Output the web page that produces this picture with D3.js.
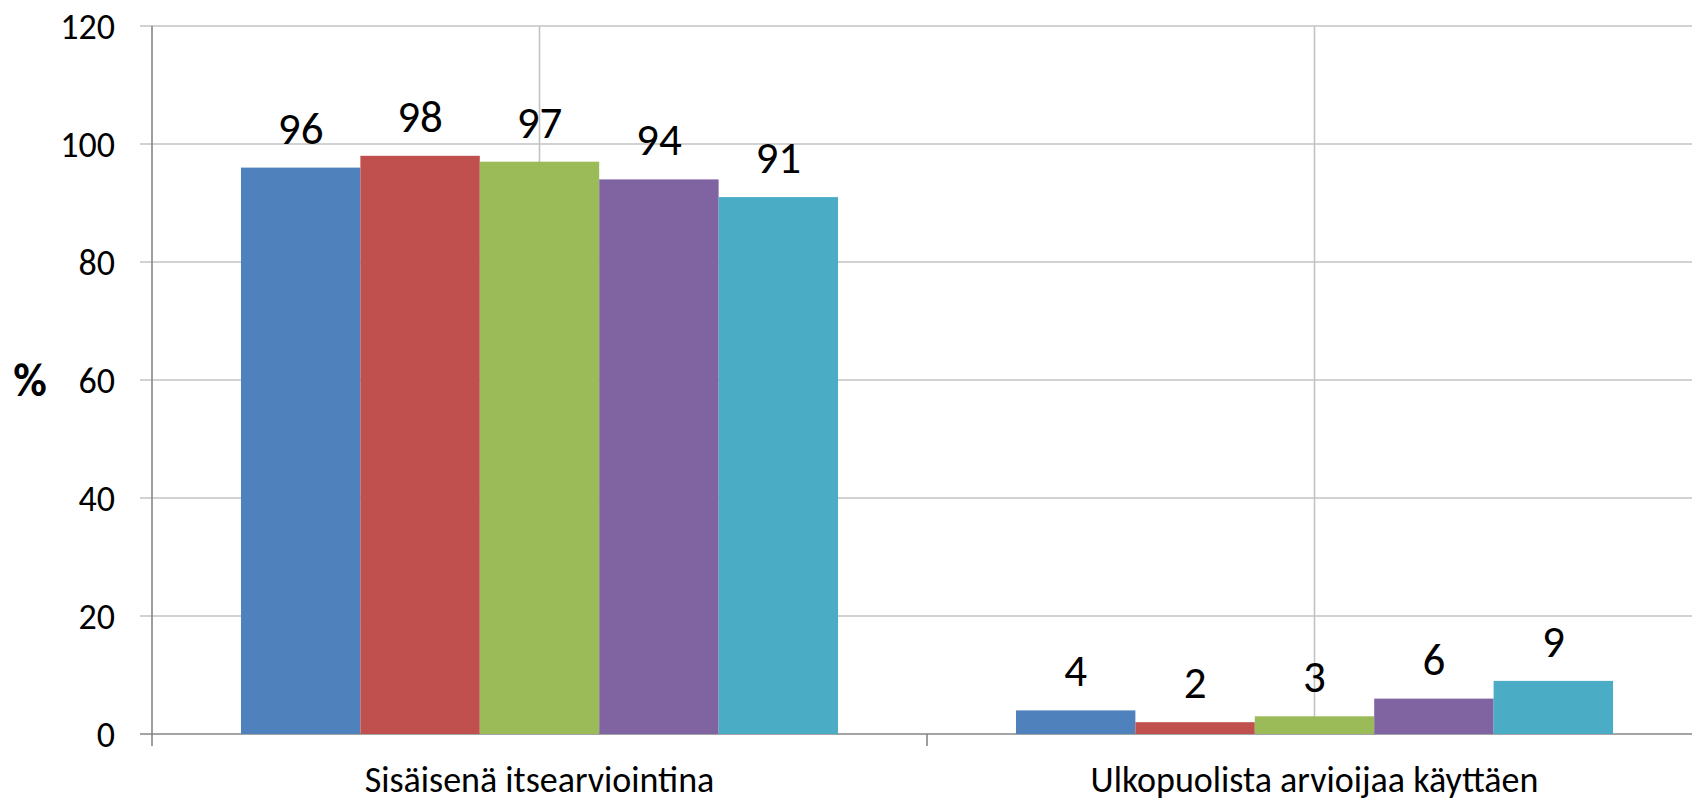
<!DOCTYPE html>
<html>
<head>
<meta charset="utf-8">
<script src="https://cdn.jsdelivr.net/npm/d3@7"></script>
<style>
  body { margin: 0; background: #fff; }
  svg { display: block; font-family: Carlito, Calibri, Lato, sans-serif; }
</style>
</head>
<body>
<svg id="chart" width="1692" height="801"></svg>
<script>
// data
const categories = ['Sisäisenä itsearviointina', 'Ulkopuolista arvioijaa käyttäen'];
const seriesNames = ['s1', 's2', 's3', 's4', 's5'];
const seriesColors = ['#4F81BD', '#C0504D', '#9BBB59', '#8064A2', '#4BACC6'];
const s1 = [96, 4];
const s2 = [98, 2];
const s3 = [97, 3];
const s4 = [94, 6];
const s5 = [91, 9];
const yTicks = [0, 20, 40, 60, 80, 100, 120];

const values = [s1, s2, s3, s4, s5];

// layout
const plot = { left: 152, top: 26, bottom: 734, right: 1702 }; // second category runs past the picture edge

const svg = d3.select('#chart');

const x0 = d3.scaleBand()
  .domain(categories)
  .range([plot.left, plot.right]);

const x1 = d3.scaleBand()
  .domain(seriesNames)
  .range([0, x0.bandwidth()])
  .paddingOuter(0.745);

const y = d3.scaleLinear()
  .domain([0, 120])
  .range([plot.bottom, plot.top]);

// horizontal gridlines
svg.append('g')
  .selectAll('line')
  .data(yTicks)
  .join('line')
  .attr('x1', plot.left - 12)
  .attr('x2', 1692)
  .attr('y1', d => y(d))
  .attr('y2', d => y(d))
  .attr('stroke', d => d === 0 ? '#868686' : '#c3c3c3')
  .attr('stroke-width', 1.6);

// vertical gridlines at category centres
svg.append('g')
  .selectAll('line')
  .data(categories)
  .join('line')
  .attr('x1', d => x0(d) + x0.bandwidth() / 2)
  .attr('x2', d => x0(d) + x0.bandwidth() / 2)
  .attr('y1', plot.top)
  .attr('y2', plot.bottom)
  .attr('stroke', '#c3c3c3')
  .attr('stroke-width', 1.6);

// bars
const groups = svg.append('g')
  .selectAll('g')
  .data(categories)
  .join('g')
  .attr('transform', d => `translate(${x0(d)},0)`);

groups.selectAll('rect')
  .data((d, i) => seriesNames.map((s, j) => ({ s: s, v: values[j][i], c: seriesColors[j] })))
  .join('rect')
  .attr('x', d => x1(d.s))
  .attr('y', d => y(d.v))
  .attr('width', x1.bandwidth())
  .attr('height', d => y(0) - y(d.v))
  .attr('fill', d => d.c);

groups.selectAll('text')
  .data((d, i) => seriesNames.map((s, j) => ({ s: s, v: values[j][i] })))
  .join('text')
  .attr('x', d => x1(d.s) + x1.bandwidth() / 2)
  .attr('y', d => y(d.v) - 24)
  .attr('text-anchor', 'middle')
  .style('font-size', '45px')
  .attr('fill', '#000')
  .text(d => d.v);

// y axis line
svg.append('line')
  .attr('x1', plot.left)
  .attr('x2', plot.left)
  .attr('y1', plot.top)
  .attr('y2', plot.bottom + 12)
  .attr('stroke', '#868686')
  .attr('stroke-width', 1.6);

// category boundary ticks
svg.append('g')
  .selectAll('line')
  .data(categories.slice(1))
  .join('line')
  .attr('x1', d => x0(d))
  .attr('x2', d => x0(d))
  .attr('y1', plot.bottom)
  .attr('y2', plot.bottom + 12)
  .attr('stroke', '#868686')
  .attr('stroke-width', 1.6);

// y tick labels
svg.append('g')
  .selectAll('text')
  .data(yTicks)
  .join('text')
  .attr('x', 115)
  .attr('y', d => y(d))
  .attr('dy', '0.35em')
  .attr('text-anchor', 'end')
  .style('font-size', '36px')
  .text(d => d);

// category labels
svg.append('g')
  .selectAll('text')
  .data(categories)
  .join('text')
  .attr('x', d => x0(d) + x0.bandwidth() / 2)
  .attr('y', 792)
  .attr('text-anchor', 'middle')
  .style('font-size', '36px')
  .text(d => d);

// axis title
svg.append('text')
  .attr('x', 30)
  .attr('y', y(60))
  .attr('dy', '0.35em')
  .attr('text-anchor', 'middle')
  .style('font-size', '46px')
  .style('font-weight', 'bold')
  .text('%');
</script>
</body>
</html>
